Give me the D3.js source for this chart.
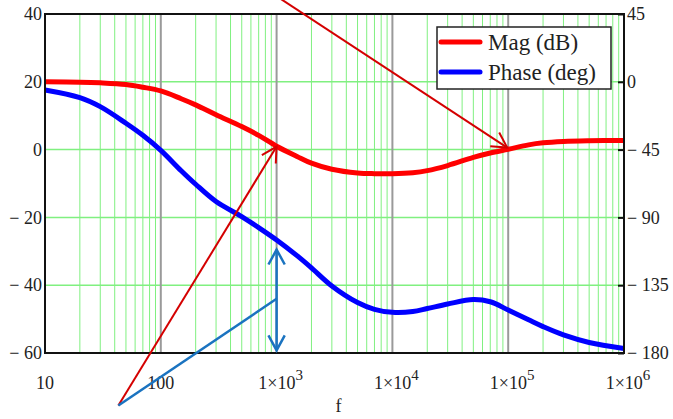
<!DOCTYPE html>
<html>
<head>
  <meta charset="utf-8">
  <title>Bode plot</title>
  <script src="https://d3js.org/d3.v7.min.js"></script>
  <style>
    body { margin: 0; background: #fff; }
  </style>
</head>
<body>
  <div id="chart"></div>
  <script>
    var freqs = [10, 20, 30, 50, 70, 100, 150, 200, 300, 500, 700,
      1e3, 1.5e3, 2e3, 3e3, 5e3, 7e3, 1e4, 1.5e4, 2e4, 3e4, 5e4, 7e4,
      1e5, 1.5e5, 2e5, 3e5, 5e5, 1e6];
    var magDb = [20.0, 19.9, 19.7, 19.2, 18.4, 17.3, 15.0, 13.2, 10.3, 6.8, 4.2,
      1.0, -2.0, -4.0, -5.8, -6.9, -7.1, -7.1, -6.8, -6.2, -4.7, -2.3, -1.0,
      0.1, 1.4, 2.0, 2.4, 2.6, 2.7];
    var phaseDeg = [-5.4, -10.5, -16.5, -27.5, -35.5, -45.5, -59, -68, -79.5, -89.5, -96.8,
      -105, -115.4, -123.5, -135.5, -146.5, -151, -153, -152.5, -150.5, -147.5, -144.5, -146,
      -151.5, -158, -162.5, -168, -173, -177];

    var leftTicks = [40, 20, 0, -20, -40, -60];
    var rightTicks = [45, 0, -45, -90, -135, -180];
    var decades = [10, 100, 1e3, 1e4, 1e5, 1e6];
    var legendNames = ["Mag (dB)", "Phase (deg)"];

    var W = 673, H = 419;
    var margin = { top: 14, right: 49, bottom: 66, left: 45 };
    var width = W - margin.left - margin.right;
    var height = H - margin.top - margin.bottom;
    var serif = "'Liberation Serif'";

    var svg = d3.select("#chart").append("svg")
      .attr("width", W).attr("height", H);
    var g = svg.append("g")
      .attr("transform", "translate(" + margin.left + "," + margin.top + ")");

    var x = d3.scaleLog().domain([10, 1e6]).range([0, width]);
    var yMag = d3.scaleLinear().domain([-60, 40]).range([height, 0]);
    var yPh = d3.scaleLinear().domain([-180, 45]).range([height, 0]);

    // minor grid (2..9 per decade)
    var minor = [];
    decades.slice(0, -1).forEach(function (d) {
      for (var k = 2; k <= 9; k++) minor.push(d * k);
    });
    g.selectAll(".minor").data(minor).join("line")
      .attr("x1", d => x(d)).attr("x2", d => x(d))
      .attr("y1", 0).attr("y2", height)
      .attr("stroke", "#80f080").attr("stroke-width", 1);

    g.selectAll(".hgrid").data([20, 0, -20, -40]).join("line")
      .attr("x1", 0).attr("x2", width)
      .attr("y1", d => yMag(d)).attr("y2", d => yMag(d))
      .attr("stroke", "#80f080").attr("stroke-width", 1.5);

    g.selectAll(".major").data(decades.slice(1, -1)).join("line")
      .attr("x1", d => x(d)).attr("x2", d => x(d))
      .attr("y1", 0).attr("y2", height)
      .attr("stroke", "#9a9a9a").attr("stroke-width", 2);

    // curves
    var pts = freqs.map((f, i) => ({ f: f, m: magDb[i], p: phaseDeg[i] }));
    var smooth = d3.curveCatmullRom.alpha(0.5);
    g.append("path").datum(pts)
      .attr("fill", "none").attr("stroke", "#0000ff").attr("stroke-width", 5)
      .attr("d", d3.line().x(d => x(d.f)).y(d => yPh(d.p)).curve(smooth));
    g.append("path").datum(pts)
      .attr("fill", "none").attr("stroke", "#ff0000").attr("stroke-width", 5)
      .attr("d", d3.line().x(d => x(d.f)).y(d => yMag(d.m)).curve(smooth));

    // frame
    g.append("rect").attr("width", width).attr("height", height)
      .attr("fill", "none").attr("stroke", "#111").attr("stroke-width", 2);

    function fmtNum(v) { return v < 0 ? "\u2212 " + (-v) : String(v); }

    // left axis
    var la = g.append("g").call(d3.axisLeft(yMag).tickValues(leftTicks).tickSize(0).tickPadding(3).tickFormat(fmtNum));
    la.attr("font-family", null).attr("font-size", null);
    la.select(".domain").remove();
    la.selectAll("text").attr("fill", "#222")
      .attr("font-family", serif).attr("font-size", 18);

    // right axis, ticks pointing inward
    var ra = g.append("g").attr("transform", "translate(" + width + ",0)")
      .call(d3.axisRight(yPh).tickValues(rightTicks).tickSize(-6).tickPadding(4).tickFormat(fmtNum));
    ra.attr("font-family", null).attr("font-size", null);
    ra.select(".domain").remove();
    ra.selectAll("line").attr("stroke", "#111").attr("stroke-width", 2);
    ra.selectAll("text").attr("x", 3).attr("fill", "#222")
      .attr("font-family", serif).attr("font-size", 18);

    // bottom labels
    var xl = g.selectAll(".xlab").data(decades).join("text")
      .attr("x", d => x(d) + (d >= 1e3 ? 4 : 0)).attr("y", height + 36)
      .attr("text-anchor", "middle")
      .attr("font-family", serif).attr("font-size", 18).attr("fill", "#222");
    xl.each(function (d) {
      var t = d3.select(this);
      var e = Math.round(Math.log10(d));
      if (e <= 2) { t.text(String(d)); return; }
      t.append("tspan").text("1\u00d710");
      t.append("tspan").attr("dy", -9).attr("font-size", 15).text(e);
    });
    g.append("text").attr("x", width / 2 + 4).attr("y", height + 59)
      .attr("text-anchor", "middle")
      .attr("font-family", serif).attr("font-size", 18).attr("fill", "#222").text("f");

    // legend
    var lg = g.append("g").attr("transform", "translate(392,13)");
    lg.append("rect").attr("width", 174).attr("height", 62)
      .attr("fill", "#fff").attr("stroke", "#222").attr("stroke-width", 1.5);
    lg.selectAll(".lgl").data(legendNames).join("line")
      .attr("x1", 4).attr("x2", 43)
      .attr("y1", (d, i) => 15 + i * 30).attr("y2", (d, i) => 15 + i * 30)
      .attr("stroke", (d, i) => i ? "#0000ff" : "#ff0000")
      .attr("stroke-width", 5).attr("stroke-linecap", "round");
    lg.selectAll(".lgt").data(legendNames).join("text")
      .attr("x", 51).attr("y", (d, i) => 23 + i * 30)
      .attr("font-family", serif).attr("font-size", 23).attr("fill", "#222")
      .text(d => d);

    // annotation arrows (given in data units, so they use the same scales)
    function arrow(x1, y1, x2, y2, color, w, both) {
      var a = svg.append("g").attr("transform", "translate(" + margin.left + "," + margin.top + ")");
      a.append("line").attr("x1", x1).attr("y1", y1).attr("x2", x2).attr("y2", y2)
        .attr("stroke", color).attr("stroke-width", w);
      function head(tx, ty, fx, fy) {
        var ang = Math.atan2(ty - fy, tx - fx), L = 17, s = 0.5;
        var p1 = [tx - L * Math.cos(ang - s), ty - L * Math.sin(ang - s)];
        var p2 = [tx - L * Math.cos(ang + s), ty - L * Math.sin(ang + s)];
        a.append("path").attr("d", "M" + p1 + "L" + [tx, ty] + "L" + p2)
          .attr("fill", "none").attr("stroke", color).attr("stroke-width", w);
      }
      head(x2, y2, x1, y1);
      if (both) head(x1, y1, x2, y2);
    }
    var origin = { f: 43, db: -75.5 };
    arrow(x(origin.f), yMag(origin.db), x(1e3), yMag(0.9), "#d40000", 2, false);
    arrow(x(1080), yMag(44.5), x(9.8e4), yMag(0.6), "#d40000", 2, false);
    svg.append("line")
      .attr("x1", margin.left + x(origin.f)).attr("y1", margin.top + yMag(origin.db))
      .attr("x2", margin.left + x(1e3)).attr("y2", margin.top + yMag(-44))
      .attr("stroke", "#1a73c0").attr("stroke-width", 2.5);
    arrow(x(1e3), yMag(-29.5), x(1e3), yMag(-59.2), "#1a73c0", 2.5, true);
  </script>
</body>
</html>
